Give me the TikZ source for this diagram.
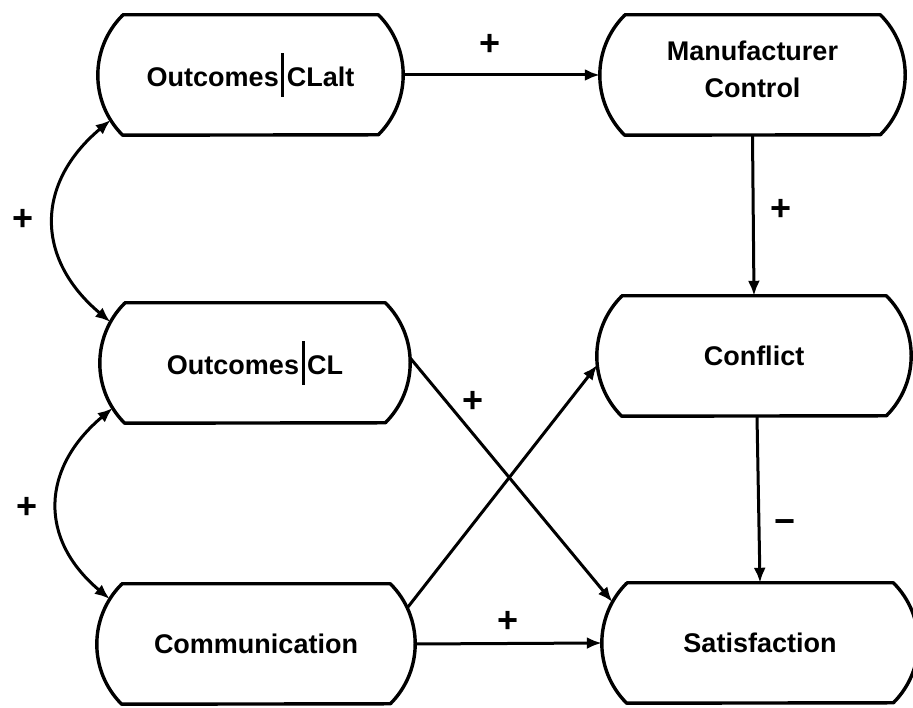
\documentclass[tikz,border=0pt]{standalone}
\usepackage{fontspec}
\setmainfont{Liberation Sans}
\usetikzlibrary{arrows.meta}
% tall divider between "Outcomes" and the comparison level
\newcommand\givenbar{\hspace{2.5pt}\rule[-10pt]{3pt}{44pt}\hspace{2.5pt}}
\begin{document}
\begin{tikzpicture}[x=1pt,y=1pt,
  box/.style={rectangle, draw=none, minimum height=120pt, inner sep=0pt,
    font=\fontsize{27}{37}\selectfont\bfseries, align=center},
  outline/.style={line width=3.4pt, line join=round},
  tip/.tip={Latex[length=15pt,width=12pt]},
  link/.style={line width=3pt, -tip},
  both/.style={line width=3pt, tip-tip, out=220, in=140, looseness=1.25},
  sign/.style={font=\fontsize{36}{36}\selectfont\bfseries, inner sep=0pt}]
\useasboundingbox (0,0) rectangle (913,708);
\fill[white] (0,0) rectangle (913,708);

% constructs
\node[box, minimum width=305pt] (clalt) at (250.5,633) {Outcomes\givenbar CLalt};
\node[box, minimum width=305pt] (mc)    at (752.5,633) {Manufacturer\\Control\rule[-12pt]{0pt}{0pt}};
\node[box, minimum width=310pt] (cl)    at (255,345)   {Outcomes\givenbar CL};
\node[box, minimum width=314pt] (cf)    at (754,352)   {Conflict};
\node[box, minimum width=318pt] (com)   at (256,64)    {Communication};
\node[box, minimum width=316pt] (sat)   at (760,65)    {Satisfaction};

% flat top and bottom, circular-arc sides
\foreach \n in {clalt,mc,cl,cf,com,sat}
  \draw[outline] ([xshift=24.85pt]\n.north west) -- ([xshift=-24.85pt]\n.north east)
    arc[start angle=45, end angle=-45, radius=84.85pt]
    -- ([xshift=24.85pt]\n.south west)
    arc[start angle=225, end angle=135, radius=84.85pt] -- cycle;

% attachment points on the curved sides
\coordinate (clalt-low) at ([shift={(12.9pt,-45pt)}]clalt.west);
\coordinate (cl-up)     at ([shift={(10.6pt,41pt)}]cl.west);
\coordinate (cl-low)    at ([shift={(12.9pt,-45pt)}]cl.west);
\coordinate (com-up)    at ([shift={(12.9pt,45pt)}]com.west);
\coordinate (cl-out)    at ([yshift=5pt]cl.east);
\coordinate (sat-diag)  at ([shift={(10.6pt,41pt)}]sat.west);
\coordinate (com-diag)  at ([shift={(-8pt,36pt)}]com.east);
\coordinate (cf-diag)   at ([shift={(0.5pt,-9pt)}]cf.west);

% paths
\draw[link] (clalt.east) -- (mc.west);
\draw[link] (mc.south) -- (cf.north);
\draw[link] ([xshift=3pt]cf.south) -- (sat.north);
\draw[link] (cl-out) -- (sat-diag);
\draw[link] (com-diag) -- (cf-diag);
\draw[link] (com.east) -- (sat.west);
\draw[both] (clalt-low) to (cl-up);
\draw[both] (cl-low) to (com-up);

% signs
\node[sign] (s1) at (490,663) {+};
\node[sign] (s2) at (781,498) {+};
\node[sign] (s3) at (785,181) {−};
\node[sign] (s4) at (473,306) {+};
\node[sign] (s5) at (508,86)  {+};
\node[sign] (s6) at (23,488)  {+};
\node[sign] (s7) at (27,200)  {+};
\end{tikzpicture}
\end{document}
